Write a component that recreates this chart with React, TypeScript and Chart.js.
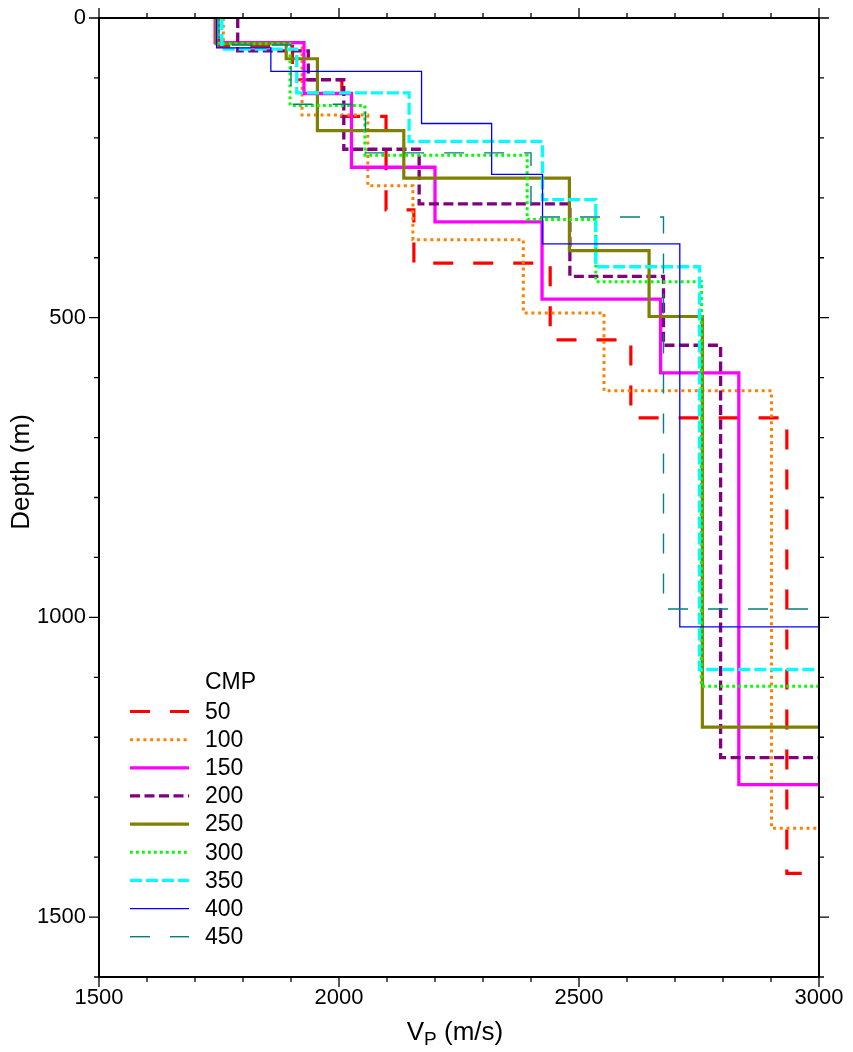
import React, { useEffect, useRef } from 'react';
import { Chart, registerables } from 'chart.js';

Chart.register(...registerables);

// CMP names (legend)
const cmpNames = ['50', '100', '150', '200', '250', '300', '350', '400', '450'];

// Layer velocities (m/s); the last value is the velocity below the deepest interface
const vel50 = [1750, 1903, 2006, 2098, 2156, 2440, 2608, 2933, 2964];
const dep50 = [47, 103, 164, 320, 409, 537, 667, 1427];

const vel100 = [1759, 1923, 2060, 2154, 2384, 2552, 2901, 3100];
const dep100 = [41, 162, 280, 370, 492, 622, 1352];

const vel150 = [1742, 1927, 2026, 2200, 2423, 2670, 2833, 3100];
const dep150 = [41, 126, 249, 340, 469, 592, 1279];

const vel200 = [1789, 1936, 2010, 2167, 2481, 2676, 2795, 3100];
const dep200 = [55, 103, 219, 310, 431, 546, 1234];

const vel250 = [1744, 1890, 1955, 2135, 2480, 2646, 2757, 3100];
const dep250 = [43, 68, 188, 267, 388, 498, 1183];

const vel300 = [1749, 1898, 2054, 2392, 2535, 2755, 3100];
const dep300 = [43, 146, 229, 336, 440, 1115];

const vel350 = [1756, 1912, 2146, 2424, 2535, 2751, 3100];
const dep350 = [52, 125, 206, 303, 415, 1087];

const vel400 = [1745, 1858, 2172, 2318, 2424, 2710, 3100];
const dep400 = [50, 89, 176, 261, 377, 1016];

const vel450 = [1750, 1900, 2055, 2400, 2676, 3100];
const dep450 = [45, 144, 225, 332, 986];

// Axis tick labels
const xLabelValues = [1500, 2000, 2500, 3000];
const yLabelValues = [0, 500, 1000, 1500];

const velocities = [vel50, vel100, vel150, vel200, vel250, vel300, vel350, vel400, vel450];
const depths = [dep50, dep100, dep150, dep200, dep250, dep300, dep350, dep400, dep450];

const colors = ['#ff0000', '#ff8000', '#ff00ff', '#800080', '#808000', '#00ff00', '#00ffff', '#0000ff', '#008080'];
const widths = [3.2, 3.0, 3.3, 3.3, 3.2, 3.0, 3.3, 1.3, 1.4];
const dashes: number[][] = [[20, 20], [3, 3.7], [], [10, 4.5], [], [2.8, 3.2], [12, 4], [], [20, 20]];
const dashOffsets = [20.6, 0, 0, 0, 0, 0, 0, 0, 0];

const FONT = 'Liberation Sans';

function stepPoints(vel: number[], dep: number[]) {
  const pts: { x: number; y: number }[] = [{ x: vel[0], y: 0 }];
  for (let i = 0; i < dep.length; i++) {
    pts.push({ x: vel[i], y: dep[i] });
    pts.push({ x: vel[i + 1], y: dep[i] });
  }
  return pts;
}

const framePlugin = {
  id: 'frameAndLegend',
  afterDraw(chart: any) {
    const { ctx, chartArea, scales } = chart;
    const { left, right, top, bottom } = chartArea;
    const xs = scales.x;
    const ys = scales.y;
    ctx.save();
    ctx.strokeStyle = '#000';
    ctx.fillStyle = '#000';
    ctx.setLineDash([]);
    ctx.lineCap = 'butt';
    // tick marks on four sides
    ctx.lineWidth = 1.3;
    ctx.beginPath();
    for (let v = 1500; v <= 3000; v += 100) {
      const px = xs.getPixelForValue(v);
      const len = v % 500 === 0 ? 10 : 5;
      ctx.moveTo(px, bottom);
      ctx.lineTo(px, bottom + len);
      ctx.moveTo(px, top);
      ctx.lineTo(px, top - len);
    }
    for (let d = 0; d <= 1600; d += 100) {
      const py = ys.getPixelForValue(d);
      const len = d % 500 === 0 ? 10 : 5;
      ctx.moveTo(left, py);
      ctx.lineTo(left - len, py);
      ctx.moveTo(right, py);
      ctx.lineTo(right + len, py);
    }
    ctx.stroke();
    // frame
    ctx.lineWidth = 2;
    ctx.strokeRect(left, top, right - left, bottom - top);

    // y title
    ctx.save();
    ctx.translate(29, 472);
    ctx.rotate(-Math.PI / 2);
    ctx.font = `26px "${FONT}"`;
    ctx.textAlign = 'center';
    ctx.textBaseline = 'alphabetic';
    ctx.fillText('Depth (m)', 0, 0);
    ctx.restore();

    // x title with subscript
    const big = `26px "${FONT}"`;
    const small = `19px "${FONT}"`;
    ctx.textBaseline = 'alphabetic';
    ctx.textAlign = 'left';
    ctx.font = big;
    const wV = ctx.measureText('V').width;
    const wRest = ctx.measureText(' (m/s)').width;
    ctx.font = small;
    const wP = ctx.measureText('P').width;
    let tx = 455 - (wV + wP + wRest) / 2;
    const base = 1040;
    ctx.font = big;
    ctx.fillText('V', tx, base);
    tx += wV;
    ctx.font = small;
    ctx.fillText('P', tx, base + 5);
    tx += wP;
    ctx.font = big;
    ctx.fillText(' (m/s)', tx, base);

    // legend
    ctx.font = `23px "${FONT}"`;
    ctx.textBaseline = 'middle';
    ctx.fillText('CMP', 205, 683);
    chart.data.datasets.forEach((ds: any, i: number) => {
      const y = 711.5 + i * 28.15;
      ctx.save();
      ctx.strokeStyle = ds.borderColor;
      ctx.lineWidth = ds.borderWidth;
      ctx.setLineDash(ds.borderDash || []);
      ctx.beginPath();
      ctx.moveTo(130, y);
      ctx.lineTo(189, y);
      ctx.stroke();
      ctx.restore();
      ctx.fillStyle = '#000';
      ctx.fillText(ds.label, 205, y + 1);
    });
    ctx.restore();
  },
};

export default function App() {
  const ref = useRef<HTMLCanvasElement | null>(null);
  useEffect(() => {
    if (!ref.current) return;
    const datasets = velocities.map((vel, i) => ({
      label: cmpNames[i],
      data: stepPoints(vel, depths[i]),
      showLine: true,
      pointRadius: 0,
      pointHoverRadius: 0,
      borderColor: colors[i],
      backgroundColor: colors[i],
      borderWidth: widths[i],
      borderDash: dashes[i],
      borderDashOffset: dashOffsets[i],
      borderCapStyle: 'butt',
      borderJoinStyle: 'miter',
      fill: false,
      tension: 0,
      clip: 0,
      order: velocities.length - i,
    }));
    const tickFont = { family: FONT, size: 22 };
    const chart = new Chart(ref.current, {
      type: 'scatter',
      data: { datasets } as any,
      options: {
        animation: false,
        responsive: false,
        devicePixelRatio: 1,
        events: [],
        layout: { padding: { left: 0, right: 34, top: 18, bottom: 0 } },
        plugins: {
          legend: { display: false },
          tooltip: { enabled: false },
          title: { display: false },
        },
        scales: {
          x: {
            type: 'linear',
            position: 'bottom',
            min: 1500,
            max: 3000,
            afterBuildTicks: (s: any) => {
              s.ticks = xLabelValues.map((v) => ({ value: v }));
            },
            afterFit: (s: any) => {
              s.height = 75;
              s.paddingLeft = 0;
              s.paddingRight = 0;
            },
            ticks: {
              font: tickFont,
              color: '#000',
              padding: 8,
              autoSkip: false,
              maxRotation: 0,
              callback: (v: any) => String(v),
            },
            grid: { display: false, drawTicks: false },
            border: { display: false },
          },
          y: {
            type: 'linear',
            reverse: true,
            min: 0,
            max: 1600,
            afterBuildTicks: (s: any) => {
              s.ticks = yLabelValues.map((v) => ({ value: v }));
            },
            afterFit: (s: any) => {
              s.width = 99;
              s.paddingTop = 0;
              s.paddingBottom = 0;
            },
            ticks: {
              font: tickFont,
              color: '#000',
              padding: 13,
              autoSkip: false,
              callback: (v: any) => String(v),
            },
            grid: { display: false, drawTicks: false },
            border: { display: false },
          },
        },
      } as any,
      plugins: [framePlugin],
    });
    return () => chart.destroy();
  }, []);
  return (
    <div style={{ position: 'absolute', left: 0, top: 0, width: 853, height: 1052, background: '#fff' }}>
      <canvas ref={ref} width={853} height={1052} style={{ display: 'block' }} />
    </div>
  );
}
